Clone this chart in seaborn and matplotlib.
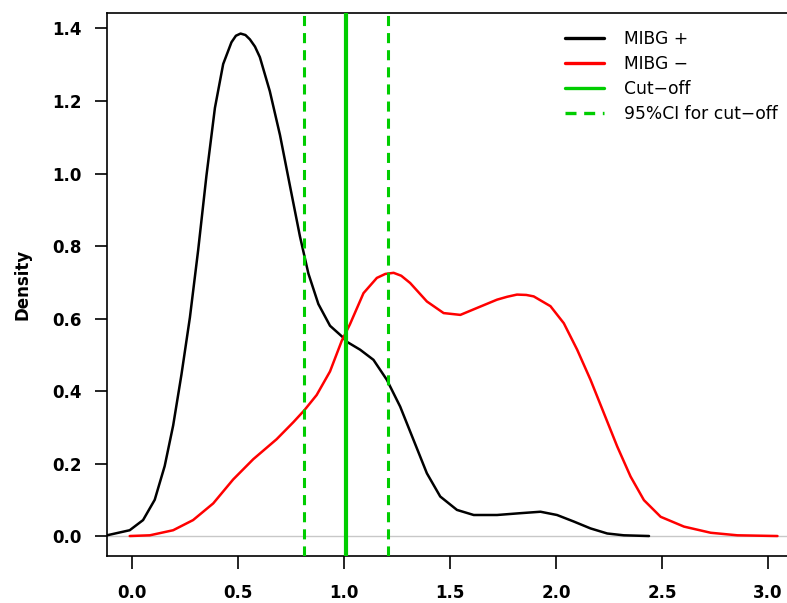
import matplotlib
matplotlib.use('Agg')

import pandas as pd
import matplotlib.pyplot as plt
import seaborn as sns

# -----------------------------
# DATA
# -----------------------------
pos_x = [-0.118, -0.011, 0.052, 0.107, 0.154, 0.194, 0.233, 0.273, 0.312, 0.351,
         0.391, 0.430, 0.469, 0.490, 0.512, 0.535, 0.556, 0.580, 0.603, 0.650,
         0.698, 0.745, 0.792, 0.832, 0.879, 0.934, 0.997, 1.010, 1.076, 1.139,
         1.202, 1.265, 1.328, 1.391, 1.454, 1.533, 1.612, 1.722, 1.832, 1.927,
         2.005, 2.084, 2.163, 2.242, 2.320, 2.439]
pos_y = [0.002, 0.016, 0.044, 0.100, 0.193, 0.305, 0.445, 0.603, 0.789, 0.994,
         1.181, 1.302, 1.362, 1.380, 1.386, 1.382, 1.370, 1.350, 1.321, 1.227,
         1.106, 0.966, 0.827, 0.724, 0.640, 0.580, 0.547, 0.537, 0.514, 0.486,
         0.431, 0.357, 0.265, 0.173, 0.109, 0.072, 0.058, 0.058, 0.063, 0.067,
         0.058, 0.040, 0.021, 0.007, 0.002, 0.000]

neg_x = [-0.011, 0.084, 0.194, 0.288, 0.383, 0.477, 0.572, 0.682, 0.761, 0.813,
         0.871, 0.934, 0.989, 1.028, 1.092, 1.155, 1.195, 1.234, 1.270, 1.312,
         1.391, 1.470, 1.549, 1.627, 1.722, 1.770, 1.816, 1.860, 1.895, 1.974,
         2.037, 2.100, 2.163, 2.226, 2.289, 2.352, 2.415, 2.494, 2.604, 2.730,
         2.856, 3.045]
neg_y = [0.000, 0.002, 0.016, 0.044, 0.090, 0.156, 0.212, 0.267, 0.314, 0.347,
         0.389, 0.454, 0.538, 0.584, 0.670, 0.712, 0.723, 0.726, 0.718, 0.698,
         0.647, 0.615, 0.610, 0.629, 0.652, 0.660, 0.666, 0.665, 0.661, 0.634,
         0.587, 0.514, 0.431, 0.339, 0.247, 0.164, 0.099, 0.053, 0.026, 0.009,
         0.002, 0.000]

cutoff = 1.01
ci_low, ci_high = 0.813, 1.207

x_ticks = [0.0, 0.5, 1.0, 1.5, 2.0, 2.5, 3.0]
y_ticks = [0.0, 0.2, 0.4, 0.6, 0.8, 1.0, 1.2, 1.4]

pos_df = pd.DataFrame({"x": pos_x, "density": pos_y})
neg_df = pd.DataFrame({"x": neg_x, "density": neg_y})

# -----------------------------
# PLOT
# -----------------------------
sns.set_style("ticks")
plt.rcParams['font.family'] = ['DejaVu Sans']
plt.rcParams['text.color'] = 'black'
plt.rcParams['axes.labelcolor'] = 'black'
plt.rcParams['xtick.color'] = 'black'
plt.rcParams['ytick.color'] = 'black'

green = "#00CD00"

fig = plt.figure(figsize=(7.87, 6.03), dpi=100)
ax = fig.add_axes([0.136, 0.078, 0.864, 0.9])

ax.axhline(0, color="#C8C8C8", lw=1.0, zorder=1)
sns.lineplot(data=pos_df, x="x", y="density", ax=ax, color="black", lw=1.8,
             sort=False, label="MIBG +", zorder=3, solid_joinstyle="round")
sns.lineplot(data=neg_df, x="x", y="density", ax=ax, color="#FF0000", lw=1.8,
             sort=False, label="MIBG \u2212", zorder=3, solid_joinstyle="round")
ax.axvline(cutoff, color=green, lw=3.0, label="Cut\u2212off", zorder=4)
ax.axvline(ci_low, color=green, lw=2.2, dashes=(3.3, 2.3),
           label="95%CI for cut\u2212off", zorder=4)
ax.axvline(ci_high, color=green, lw=2.2, dashes=(3.3, 2.3), zorder=4)

ax.set_xlim(-0.118, 3.09)
ax.set_ylim(-0.055, 1.442)
ax.set_xticks(x_ticks)
ax.set_yticks(y_ticks)
ax.set_xticklabels([f"{v:.1f}" for v in x_ticks], fontweight="bold", fontsize=12)
ax.set_yticklabels([f"{v:.1f}" for v in y_ticks], fontweight="bold", fontsize=12)
ax.tick_params(axis="both", direction="out", length=9, width=1.2, color="black")
ax.tick_params(axis="x", pad=11)
ax.tick_params(axis="y", pad=9)

ax.set_xlabel("")
ax.set_ylabel("Density", fontweight="bold", fontsize=12, labelpad=15)

for side in ["left", "bottom", "top"]:
    ax.spines[side].set_color("black")
    ax.spines[side].set_linewidth(1.2)
ax.spines["right"].set_visible(False)

leg = ax.legend(loc="upper left", bbox_to_anchor=(0.673, 0.969), frameon=False,
                fontsize=12.3, handlelength=2.3, handletextpad=1.2,
                labelspacing=0.4, borderaxespad=0, borderpad=0)
for line in leg.get_lines():
    line.set_linewidth(2.4)

fig.savefig("out.png", dpi=100)
plt.close()
